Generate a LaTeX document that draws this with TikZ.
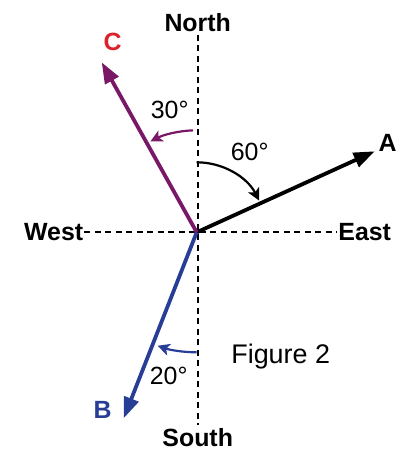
\documentclass[tikz,border=0pt]{standalone}
\usepackage{fontspec}
\setmainfont{Liberation Sans}
\usetikzlibrary{arrows.meta}
\definecolor{vecC}{RGB}{122,24,104}
\definecolor{labC}{RGB}{218,35,42}
\definecolor{vecB}{RGB}{40,62,150}
\begin{document}
\begin{tikzpicture}[x=1bp, y=1bp,
    axis/.style={line width=2bp, dash pattern=on 6bp off 4.5bp},
    vec/.style={line width=3.8bp, -{Triangle[length=21bp,width=15bp]}},
    ang/.style={line width=2.2bp, -{Stealth[length=12bp,width=12bp,inset=3bp]}},
    dir/.style={font=\fontsize{25}{30}\selectfont\bfseries},
    lbl/.style={font=\fontsize{25}{30}\selectfont}]
    \useasboundingbox (-196.7,-218.7) rectangle (204.3,232.3);
    \coordinate (O) at (0,0);
    \node[dir] (north) at (1,210) {North};
    \node[dir] (south) at (1,-205) {South};
    \node[dir, inner sep=1bp] (west) at (-143,0) {West};
    \node[dir, inner sep=1bp] (east) at (168,0) {East};
    \draw[axis] (west.east) -- (east.west);
    \draw[axis] (north.south) -- (south.north);
    \coordinate (tipA) at (178,81);
    \coordinate (tipB) at (-73,-186);
    \coordinate (tipC) at (-95,170);
    \draw[vec] (O) -- (tipA);
    \draw[vec, vecB] (O) -- (tipB);
    \draw[vec, vecC] (O) -- (tipC);
    \node[dir] (labA) at (191,89) {A};
    \node[dir, vecB] (labB) at (-94,-178) {B};
    \node[dir, labC] (labC) at (-84,190) {C};
    \draw[ang] (O) ++(90:70) arc[start angle=90, end angle=27, radius=70];
    \draw[ang, vecC] (O) ++(92:102) arc[start angle=92, end angle=117, radius=102];
    \draw[ang, vecB] (O) ++(270:120) arc[start angle=270, end angle=251, radius=120];
    \node[lbl] (angA) at (53,80) {60°};
    \node[lbl] (angC) at (-27,122) {30°};
    \node[lbl] (angB) at (-28,-144) {20°};
    \node[lbl, font=\fontsize{27}{32}\selectfont] (fig) at (84,-124) {Figure 2};
\end{tikzpicture}
\end{document}
